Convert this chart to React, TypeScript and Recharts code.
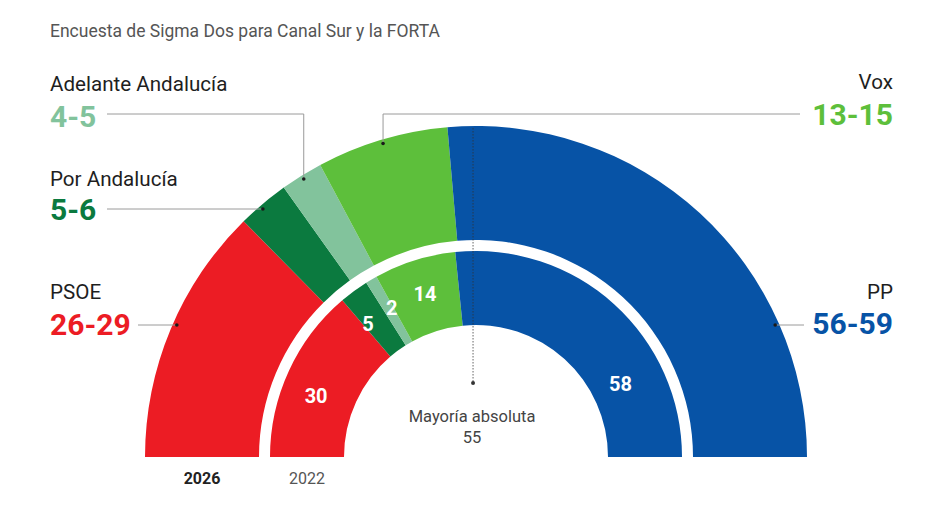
import React from 'react';
import { PieChart, Pie, Cell } from 'recharts';

// ---- data ----
const parties = ['PSOE', 'Por Andalucía', 'Adelante Andalucía', 'Vox', 'PP'];
const colors = ['#ec1c24', '#0b7a3f', '#82c39c', '#5dbf3b', '#0753a6'];
const low2026 = [26, 5, 4, 13, 56];
const high2026 = [29, 6, 5, 15, 59];
const seats2022 = [30, 5, 2, 14, 58];
const majority = 55;
const title = 'Encuesta de Sigma Dos para Canal Sur y la FORTA';
const ringLabels = ['2026', '2022'];
const majorityLabel = 'Mayoría absoluta';

const data2026 = parties.map((name, i) => ({
  name,
  value: (low2026[i] + high2026[i]) / 2,
  range: `${low2026[i]}-${high2026[i]}`,
}));
const data2022 = parties.map((name, i) => ({ name, value: seats2022[i] }));
const total = seats2022.reduce((a, b) => a + b, 0);

// ---- layout ----
const W = 947;
const H = 519;
const CX = 476;
const CY = 457;
const R1O = 331;
const R1I = 217;
const R2O = 206;
const R2I = 132;
const RDOT = 327;
const FONT = 'Roboto, "Liberation Sans", sans-serif';

const callouts = [
  { side: 'left', nameY: 299, numY: 335, lineY: 325, lineX: 138, mode: 'h' },
  { side: 'left', nameY: 186, numY: 220, lineY: 209, lineX: 107, mode: 'h' },
  { side: 'left', nameY: 91, numY: 127, lineY: 114, lineX: 107, mode: 'elbow' },
  { side: 'right', nameY: 89, numY: 125, lineY: 114, lineX: 800, mode: 'elbow' },
  { side: 'right', nameY: 299, numY: 334, lineY: 325, lineX: 804, mode: 'h' },
];
// small angular nudges (degrees) for the inner-ring value labels
const innerNudge = [4, 2.8, -1, 0, 0];

const RAD = Math.PI / 180;

const renderInner = (p: any) => {
  const { cx, cy, midAngle, index, value, startAngle, endAngle } = p;
  let ang = midAngle + innerNudge[index];
  let r = 171;
  if (index === parties.length - 1) {
    const lo = Math.min(startAngle, endAngle);
    ang = lo + Math.abs(startAngle - endAngle) * 0.28;
    r = 162;
  }
  const x = cx + r * Math.cos(ang * RAD);
  const y = cy - r * Math.sin(ang * RAD);
  return (
    <text
      key={`l-${index}`}
      x={x}
      y={y}
      fill="#ffffff"
      textAnchor="middle"
      dominantBaseline="central"
      fontSize={20}
      fontWeight={700}
      fontFamily={FONT}
    >
      {value}
    </text>
  );
};

function Callouts() {
  const total26 = data2026.reduce((a, d) => a + d.value, 0);
  let cum = 0;
  const items = data2026.map((d, i) => {
    const mid = 180 - ((cum + d.value / 2) / total26) * 180;
    cum += d.value;
    const c = callouts[i];
    let dotX: number;
    let dotY: number;
    let path: string;
    if (c.mode === 'h') {
      const dy = CY - c.lineY;
      const dx = Math.sqrt(RDOT * RDOT - dy * dy);
      dotX = c.side === 'left' ? CX - dx : CX + dx;
      dotY = c.lineY;
      path = `M${c.lineX},${c.lineY}L${dotX},${dotY}`;
    } else {
      dotX = CX + RDOT * Math.cos(mid * RAD);
      dotY = CY - RDOT * Math.sin(mid * RAD);
      path = `M${c.lineX},${c.lineY}L${dotX},${c.lineY}L${dotX},${dotY}`;
    }
    const left = c.side === 'left';
    const tx = left ? 50 : 893;
    const anchor = left ? 'start' : 'end';
    return (
      <g key={d.name}>
        <path d={path} fill="none" stroke="#9a9a9a" strokeWidth={1} />
        <circle cx={dotX} cy={dotY} r={1.8} fill="#1a1a1a" />
        <text x={tx} y={c.nameY} textAnchor={anchor} fontSize={20.6} fill="#1e1e1e" fontFamily={FONT}>
          {d.name}
        </text>
        <text x={tx} y={c.numY} textAnchor={anchor} fontSize={30} fontWeight={700} fill={colors[i]} fontFamily={FONT}>
          {d.range}
        </text>
      </g>
    );
  });

  const majAng = (majority / total) * 180;
  const mx = CX - Math.abs(R2O * Math.cos(majAng * RAD));

  return (
    <svg
      width={W}
      height={H}
      style={{ position: 'absolute', left: 0, top: 0, pointerEvents: 'none' }}
    >
      <text x={50} y={37} fontSize={17.5} fill="#555" fontFamily={FONT}>
        {title}
      </text>
      {items}
      <line x1={mx} y1={CY - R1O + 2} x2={mx} y2={383} stroke="#333" strokeWidth={1} strokeDasharray="1.5 1.5" opacity={0.75} />
      <circle cx={mx} cy={383} r={2} fill="#333" />
      <text x={CX - 4} y={422} textAnchor="middle" fontSize={16.5} fill="#444" fontFamily={FONT}>
        {majorityLabel}
      </text>
      <text x={CX - 4} y={443} textAnchor="middle" fontSize={16.5} fill="#444" fontFamily={FONT}>
        {majority}
      </text>
      <text x={CX - (R1O + R1I) / 2} y={484} textAnchor="middle" fontSize={16} fontWeight={700} fill="#222" fontFamily={FONT}>
        {ringLabels[0]}
      </text>
      <text x={CX - (R2O + R2I) / 2} y={484} textAnchor="middle" fontSize={16} fill="#555" fontFamily={FONT}>
        {ringLabels[1]}
      </text>
    </svg>
  );
}

export default function App() {
  return (
    <div style={{ position: 'absolute', left: 0, top: 0, width: W, height: H, background: '#fff', fontFamily: FONT }}>
      <PieChart width={W} height={H} margin={{ top: 0, right: 0, bottom: 0, left: 0 }}>
        <Pie
          data={data2026}
          dataKey="value"
          nameKey="name"
          cx={CX}
          cy={CY}
          startAngle={180}
          endAngle={0}
          innerRadius={R1I}
          outerRadius={R1O}
          isAnimationActive={false}
          stroke="none"
        >
          {data2026.map((d, i) => (
            <Cell key={d.name} fill={colors[i]} stroke="none" />
          ))}
        </Pie>
        <Pie
          data={data2022}
          dataKey="value"
          nameKey="name"
          cx={CX}
          cy={CY}
          startAngle={180}
          endAngle={0}
          innerRadius={R2I}
          outerRadius={R2O}
          isAnimationActive={false}
          stroke="none"
          label={renderInner}
          labelLine={false}
        >
          {data2022.map((d, i) => (
            <Cell key={d.name} fill={colors[i]} stroke="none" />
          ))}
        </Pie>
      </PieChart>
      <Callouts />
    </div>
  );
}
